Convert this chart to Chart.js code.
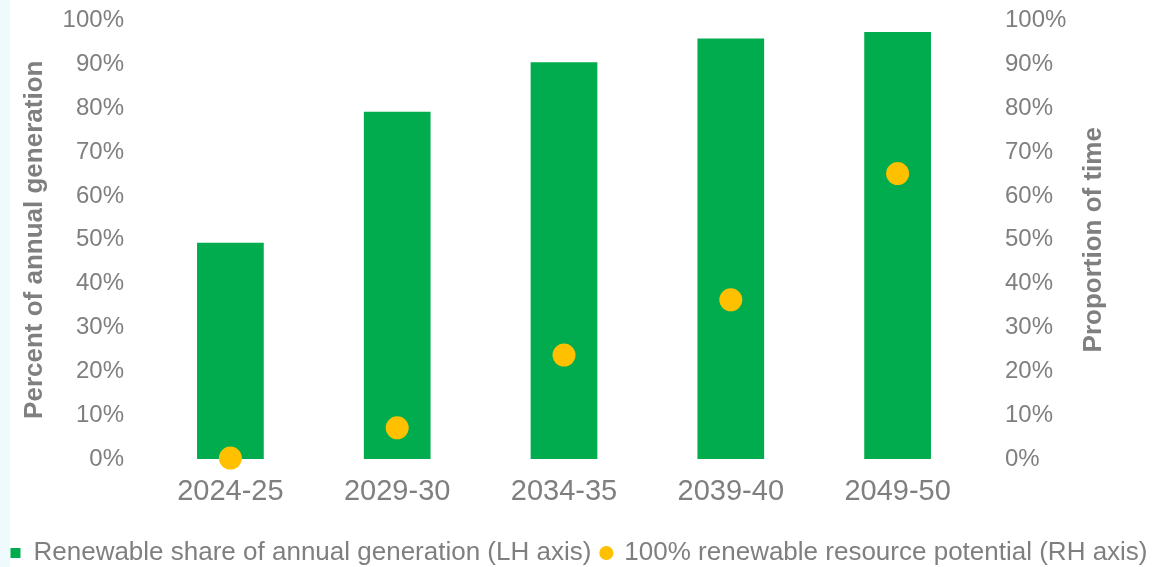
<!DOCTYPE html>
<html>
<head>
<meta charset="utf-8">
<script src="https://cdn.jsdelivr.net/npm/chart.js@4/dist/chart.umd.min.js"></script>
<style>
  html, body { margin: 0; padding: 0; }
  body { width: 1158px; height: 567px; background: linear-gradient(to right, #eefafc 0, #eefafc 10px, #ffffff 10px); overflow: hidden; }
  #wrap { position: relative; width: 1158px; height: 567px; }
</style>
</head>
<body>
<div id="wrap"><canvas id="c" width="1158" height="567"></canvas></div>
<script>
const categories = ['2024-25', '2029-30', '2034-35', '2039-40', '2049-50'];
const renewableShare = [49.3, 79.2, 90.5, 95.9, 97.4];
const resourcePotential = [0.2, 7.1, 23.7, 36.3, 65.1];
const tickValues = [0, 10, 20, 30, 40, 50, 60, 70, 80, 90, 100];
const seriesNames = ['Renewable share of annual generation (LH axis)', '100% renewable resource potential (RH axis)'];
const axisTitles = ['Percent of annual generation', 'Proportion of time'];

const GREEN = '#00AC4E';
const YELLOW = '#FFC000';
const GREY = '#7f7f7f';
const FONT = "'Liberation Sans', Arial, sans-serif";

const rightTitlePlugin = {
  id: 'rightTitle',
  afterDraw(chart) {
    const ctx = chart.ctx;
    const area = chart.chartArea;
    ctx.save();
    ctx.font = 'bold 26px ' + FONT;
    ctx.fillStyle = GREY;
    ctx.textAlign = 'center';
    ctx.textBaseline = 'middle';
    ctx.translate(1094, (area.top + area.bottom) / 2);
    ctx.rotate(-Math.PI / 2);
    ctx.fillText(axisTitles[1], 0, 0);
    ctx.restore();
  }
};

const legendHeightPlugin = {
  id: 'legendHeight',
  beforeUpdate(chart) {
    const lg = chart.legend;
    if (lg && !lg._patched) {
      const orig = lg.fit.bind(lg);
      lg.fit = function () { orig(); this.height = 37; };
      lg._patched = true;
    }
  }
};

function fitVertical(width) {
  return function (scale) {
    scale.width = width;
    scale.paddingTop = 0;
    scale.paddingBottom = 0;
  };
}

new Chart(document.getElementById('c'), {
  data: {
    labels: categories,
    datasets: [
      {
        type: 'bar',
        label: seriesNames[0],
        data: renewableShare,
        backgroundColor: GREEN,
        borderWidth: 0,
        yAxisID: 'y',
        order: 1,
        categoryPercentage: 1.0,
        barPercentage: 0.4
      },
      {
        type: 'line',
        label: seriesNames[1],
        data: resourcePotential,
        showLine: false,
        backgroundColor: YELLOW,
        borderColor: YELLOW,
        borderWidth: 0,
        pointRadius: 11.5,
        pointHoverRadius: 11.5,
        pointStyle: 'circle',
        yAxisID: 'y2',
        order: 0,
        clip: false
      }
    ]
  },
  options: {
    responsive: false,
    animation: false,
    events: [],
    layout: { padding: { top: 20.5, left: 0, right: 0, bottom: 0 } },
    plugins: {
      tooltip: { enabled: false },
      legend: {
        position: 'bottom',
        align: 'center',
        labels: {
          usePointStyle: true,
          boxHeight: 10,
          boxWidth: 10,
          padding: 10,
          color: GREY,
          font: { family: FONT, size: 26 },
          sort: (a, b) => a.datasetIndex - b.datasetIndex,
          generateLabels(chart) {
            const items = Chart.defaults.plugins.legend.labels.generateLabels(chart);
            items.forEach(it => {
              it.pointStyle = it.datasetIndex === 0 ? 'rect' : 'circle';
              it.fillStyle = it.datasetIndex === 0 ? GREEN : YELLOW;
              it.strokeStyle = 'rgba(0,0,0,0)';
              it.lineWidth = 0;
            });
            return items;
          }
        }
      }
    },
    scales: {
      x: {
        type: 'category',
        grid: { display: false, drawTicks: false },
        border: { display: false },
        ticks: { color: GREY, font: { family: FONT, size: 29 }, padding: 16, maxRotation: 0 },
        afterFit(scale) { scale.height = 71; scale.paddingLeft = 0; scale.paddingRight = 0; }
      },
      y: {
        type: 'linear',
        position: 'left',
        min: 0,
        max: 100,
        afterBuildTicks(scale) { scale.ticks = tickValues.map(v => ({ value: v })); },
        grid: { display: false, drawTicks: false },
        border: { display: false },
        ticks: { color: GREY, font: { family: FONT, size: 24 }, padding: 23, callback: v => v + '%' },
        title: {
          display: true,
          text: axisTitles[0],
          color: GREY,
          font: { family: FONT, size: 26, weight: 'bold' },
          padding: { top: 19, bottom: 0 }
        },
        afterFit: fitVertical(147)
      },
      y2: {
        type: 'linear',
        position: 'right',
        min: 0,
        max: 100,
        afterBuildTicks(scale) { scale.ticks = tickValues.map(v => ({ value: v })); },
        grid: { display: false, drawTicks: false },
        border: { display: false },
        ticks: { color: GREY, font: { family: FONT, size: 24 }, padding: 24, callback: v => v + '%' },
        afterFit: fitVertical(177)
      }
    }
  },
  plugins: [legendHeightPlugin, rightTitlePlugin]
});
</script>
</body>
</html>
